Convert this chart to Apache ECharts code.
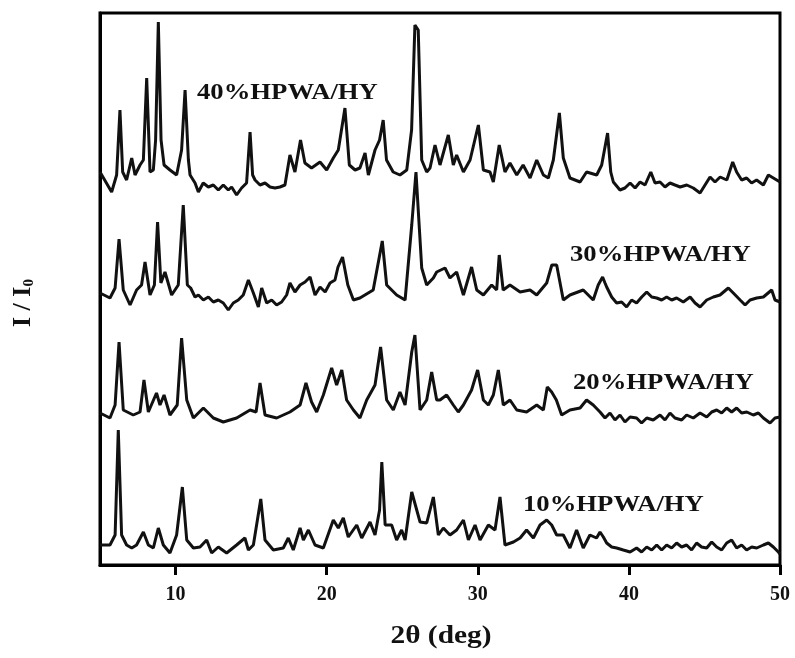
<!DOCTYPE html>
<html>
<head>
<meta charset="utf-8">
<title>XRD HPWA/HY</title>
<script src="https://cdn.jsdelivr.net/npm/echarts@6/dist/echarts.min.js"></script>
<style>
  html, body { margin: 0; padding: 0; background: #fff; }
  #main { width: 795px; height: 658px; }
</style>
</head>
<body>
<div id="main"></div>
<script>
// 2θ ticks
var xTicks = [10, 20, 30, 40, 50];

// 样品名称（从下往上）
var names = ['10%HPWA/HY', '20%HPWA/HY', '30%HPWA/HY', '40%HPWA/HY'];

// 每条曲线的竖直偏移（堆叠）
var offsets = [20, 150, 270, 385];

// [2θ, 相对强度]
var s10 = [
    [5.0, 0], [5.66, 0], [6.0, 10], [6.21, 115], [6.43, 10], [6.76, 0], [7.1, -3], [7.42, 0],
    [7.87, 13], [8.2, 0], [8.53, -3], [8.86, 17], [9.19, 0], [9.63, -8], [10.07, 10], [10.45, 58],
    [10.74, 5], [11.18, -3], [11.62, -2], [12.06, 5], [12.39, -8], [12.83, -2], [13.38, -8], [14.04, 0],
    [14.59, 7], [14.82, -5], [15.15, 0], [15.64, 46], [15.92, 5], [16.47, -5], [17.13, -3], [17.46, 7],
    [17.79, -5], [18.24, 17], [18.46, 5], [18.79, 15], [19.23, 0], [19.78, -3], [20.44, 25], [20.77, 17],
    [21.1, 27], [21.43, 8], [21.99, 20], [22.32, 7], [22.87, 23], [23.2, 10], [23.5, 35], [23.65, 83],
    [23.87, 20], [24.3, 20], [24.63, 5], [24.96, 15], [25.19, 5], [25.63, 53], [26.18, 23], [26.62, 22],
    [27.06, 48], [27.39, 10], [27.72, 17], [28.16, 10], [28.6, 15], [29.05, 25], [29.38, 5], [29.82, 20],
    [30.15, 5], [30.7, 20], [31.14, 15], [31.47, 48], [31.8, 0], [32.36, 3], [32.8, 7], [33.23, 15],
    [33.68, 7], [34.12, 20], [34.56, 25], [34.89, 20], [35.22, 10], [35.66, 10], [36.1, -3], [36.54, 15],
    [36.98, -3], [37.42, 10], [37.86, 7], [38.09, 13], [38.31, 8], [38.53, 2], [38.86, -2], [39.19, -3],
    [39.63, -5], [40.08, -7], [40.51, -3], [40.84, -7], [41.18, -2], [41.51, -5], [41.84, 0], [42.17, -5],
    [42.5, 0], [42.83, -3], [43.16, 2], [43.49, -2], [43.82, 0], [44.15, -5], [44.48, 2], [44.81, -2],
    [45.15, -3], [45.48, 3], [45.81, -2], [46.14, -5], [46.47, 2], [46.8, 5], [47.13, -3], [47.46, 0],
    [47.79, -5], [48.13, -2], [48.46, -3], [48.9, 0], [49.23, 2], [49.56, -2], [49.89, -7], [50.0, -9]
];

var s20 = [
    [5.0, 2], [5.66, -3], [6.0, 10], [6.26, 73], [6.54, 5], [7.2, 0], [7.65, 3], [7.91, 35],
    [8.2, 3], [8.74, 22], [8.97, 10], [9.24, 20], [9.63, 0], [10.11, 10], [10.4, 77], [10.74, 15],
    [11.18, -3], [11.84, 7], [12.5, -3], [13.16, -7], [14.04, -3], [14.93, 5], [15.33, 3], [15.59, 32],
    [15.92, 0], [16.69, -3], [17.57, 3], [18.24, 10], [18.63, 32], [19.0, 13], [19.34, 3], [19.78, 20],
    [20.33, 47], [20.66, 30], [21.0, 45], [21.32, 15], [21.77, 5], [22.2, -3], [22.65, 15], [23.2, 30],
    [23.57, 68], [23.97, 15], [24.41, 5], [24.85, 23], [25.19, 10], [25.63, 63], [25.84, 80], [26.18, 5],
    [26.62, 15], [26.95, 43], [27.28, 15], [27.5, 15], [27.94, 20], [28.38, 10], [28.71, 3], [29.05, 10],
    [29.59, 25], [29.99, 45], [30.37, 15], [30.7, 10], [31.03, 20], [31.36, 45], [31.69, 10], [32.13, 15],
    [32.58, 5], [33.23, 3], [33.9, 10], [34.34, 5], [34.6, 28], [34.89, 23], [35.2, 15], [35.55, 0],
    [36.1, 5], [36.77, 7], [37.2, 15], [37.64, 10], [38.09, 3], [38.42, -3], [38.75, 2], [39.08, -5],
    [39.41, 0], [39.74, -7], [40.08, -2], [40.51, -3], [40.84, -8], [41.18, -3], [41.61, -5], [42.06, 0],
    [42.39, -5], [42.72, 2], [43.05, -3], [43.49, -5], [43.82, 0], [44.26, -3], [44.71, 2], [45.15, -2],
    [45.48, 3], [45.81, 5], [46.14, 2], [46.47, 7], [46.8, 3], [47.13, 7], [47.46, 2], [47.8, 3],
    [48.23, 0], [48.57, 2], [48.9, -3], [49.34, -8], [49.67, -3], [50.0, -2]
];

var s30 = [
    [5.0, 2], [5.66, -3], [6.0, 7], [6.26, 56], [6.54, 5], [6.99, -10], [7.42, 5], [7.75, 10],
    [7.98, 33], [8.31, 0], [8.6, 10], [8.81, 73], [9.03, 12], [9.3, 23], [9.74, 0], [10.18, 10],
    [10.51, 90], [10.78, 10], [11.0, 7], [11.29, -2], [11.51, 0], [11.84, -5], [12.17, -2], [12.5, -7],
    [12.83, -5], [13.16, -8], [13.49, -15], [13.82, -8], [14.15, -5], [14.48, 0], [14.82, 15], [15.15, 2],
    [15.48, -12], [15.7, 7], [16.03, -8], [16.36, -5], [16.69, -10], [17.02, -7], [17.35, 0], [17.57, 12],
    [17.9, 3], [18.24, 10], [18.57, 13], [18.9, 18], [19.23, 0], [19.56, 8], [19.9, 3], [20.22, 12],
    [20.55, 15], [20.75, 28], [21.05, 38], [21.4, 10], [21.77, -5], [22.2, -3], [23.08, 5],
    [23.68, 54], [23.97, 10], [24.63, 0], [25.19, -5], [25.63, 70], [25.91, 123], [26.14, 65], [26.29, 27],
    [26.62, 10], [27.06, 17], [27.28, 23], [27.83, 27], [28.16, 17], [28.6, 23], [29.05, 0], [29.59, 28],
    [29.93, 5], [30.37, 0], [30.92, 10], [31.25, 5], [31.42, 40], [31.68, 5], [32.13, 10], [32.8, 3],
    [33.46, 5], [33.9, 0], [34.56, 12], [34.9, 30], [35.22, 30], [35.66, -5], [36.1, 0], [36.98, 5],
    [37.64, -5], [37.97, 10], [38.26, 18], [38.42, 12], [38.53, 8], [38.86, -2], [39.19, -8], [39.52, -7],
    [39.85, -12], [40.18, -5], [40.51, -8], [40.85, -2], [41.18, 3], [41.51, -2], [41.84, -3], [42.17, -5],
    [42.5, -2], [42.83, -5], [43.16, -3], [43.6, -7], [44.05, -2], [44.38, -8], [44.71, -12], [45.15, -5],
    [45.59, -2], [46.03, 0], [46.58, 7], [46.91, 2], [47.36, -5], [47.69, -10], [48.02, -5], [48.46, -3],
    [48.9, -2], [49.45, 5], [49.67, -5], [50.0, -7]
];

var s40 = [
    [5.0, 8], [5.77, -12], [6.1, 5], [6.32, 70], [6.5, 8], [6.76, 0], [7.1, 22], [7.32, 5],
    [7.65, 15], [7.87, 20], [8.09, 102], [8.31, 8], [8.53, 10], [8.68, 40], [8.86, 158], [9.04, 40],
    [9.24, 15], [9.63, 10], [10.07, 5], [10.4, 30], [10.63, 90], [10.85, 20], [10.96, 5], [11.29, -3],
    [11.51, -12], [11.83, -3], [12.17, -7], [12.5, -5], [12.83, -10], [13.16, -5], [13.49, -10], [13.71, -7],
    [14.04, -15], [14.37, -8], [14.7, -3], [14.93, 48], [15.1, 5], [15.26, 0], [15.59, -5], [15.92, -3],
    [16.25, -7], [16.58, -8], [16.91, -7], [17.24, -5], [17.57, 25],
    [17.9, 8], [18.27, 40], [18.56, 17], [19.0, 12], [19.56, 18], [20.0, 10], [20.44, 22], [20.77, 30],
    [21.21, 72], [21.5, 15], [21.88, 10], [22.2, 12], [22.54, 27], [22.76, 5], [23.2, 30], [23.5, 40],
    [23.74, 60], [23.96, 20], [24.4, 8], [24.85, 5], [25.3, 10], [25.62, 50], [25.84, 155], [26.06, 150],
    [26.29, 20], [26.62, 8], [26.84, 12], [27.17, 35], [27.5, 15], [28.05, 45], [28.38, 15], [28.6, 25],
    [29.05, 8], [29.49, 20], [30.04, 55], [30.37, 10], [30.81, 8], [31.03, -2], [31.42, 35], [31.8, 8],
    [32.13, 17], [32.58, 5], [33.0, 15], [33.46, 2], [33.9, 20], [34.34, 5], [34.67, 2], [35.0, 20],
    [35.4, 67], [35.66, 22], [36.1, 2], [36.77, -2], [37.2, 8], [37.87, 5], [38.2, 15], [38.59, 47],
    [38.8, 8], [38.97, -2], [39.41, -10], [39.74, -8], [40.08, -3], [40.41, -8], [40.74, -2], [41.07, -5],
    [41.45, 8], [41.73, -3], [42.06, -2], [42.39, -7], [42.72, -3], [43.05, -5], [43.39, -7], [43.83, -5],
    [44.26, -8], [44.71, -13], [45.04, -5], [45.37, 3], [45.7, -2], [46.04, 3], [46.48, 0], [46.87, 18],
    [47.13, 8], [47.46, 0], [47.79, 2], [48.12, -3], [48.45, 0], [48.9, -5], [49.23, 5], [49.56, 2],
    [50.0, -2]
];

var allData = [s10, s20, s30, s40];

// 标签位置
var labelPos = [[523, 505], [573, 383], [570, 255], [197, 93]];

var fontFam = '"Liberation Serif", "DejaVu Serif", serif';

var myChart = echarts.init(document.getElementById('main'));

var series = [];
for (var i = 0; i < allData.length; i++) {
    var d = [];
    for (var j = 0; j < allData[i].length; j++) {
        d.push([allData[i][j][0], allData[i][j][1] + offsets[i]]);
    }
    series.push({
        name: names[i],
        type: 'line',
        data: d,
        showSymbol: false,
        smooth: false,
        lineStyle: { color: '#111', width: 3 },
        z: 3
    });
}

var graphics = [];
for (var k = 0; k < names.length; k++) {
    graphics.push({
        type: 'text',
        x: labelPos[k][0],
        y: labelPos[k][1],
        scaleX: 1.16,
        style: {
            text: names[k],
            font: 'bold 23px ' + fontFam,
            fill: '#111',
            align: 'left',
            verticalAlign: 'middle'
        }
    });
}
// 横轴名
graphics.push({
    type: 'text',
    x: 441,
    y: 636,
    scaleX: 1.13,
    style: {
        text: '2θ (deg)',
        font: 'bold 26px ' + fontFam,
        fill: '#111',
        align: 'center',
        verticalAlign: 'middle'
    }
});
// 纵轴名 I / I0
graphics.push({
    type: 'text',
    x: 9,
    y: 327,
    rotation: Math.PI / 2,
    style: {
        text: '{a|I / I}{b|0}',
        rich: {
            a: { font: 'bold 26px ' + fontFam, fill: '#111' },
            b: { font: 'bold 15px ' + fontFam, fill: '#111', padding: [13, 0, 0, 0] }
        }
    }
});

var option = {
    animation: false,
    grid: {
        left: 100,
        right: 15,
        top: 13,
        bottom: 93,
        show: true,
        borderColor: '#000',
        borderWidth: 3
    },
    xAxis: {
        type: 'value',
        min: 5,
        max: 50,
        axisLine: { lineStyle: { color: '#000', width: 3 } },
        axisTick: { show: true, length: 10, inside: false, lineStyle: { color: '#000', width: 3 }, customValues: xTicks },
        axisLabel: {
            customValues: xTicks,
            margin: 20,
            fontFamily: fontFam,
            fontWeight: 'bold',
            fontSize: 20,
            color: '#111'
        },
        splitLine: { show: false }
    },
    yAxis: {
        type: 'value',
        min: 0,
        max: 552,
        axisLine: { show: true, lineStyle: { color: '#000', width: 3 } },
        axisTick: { show: false },
        axisLabel: { show: false },
        splitLine: { show: false }
    },
    graphic: graphics,
    series: series
};
myChart.setOption(option);
</script>
</body>
</html>
